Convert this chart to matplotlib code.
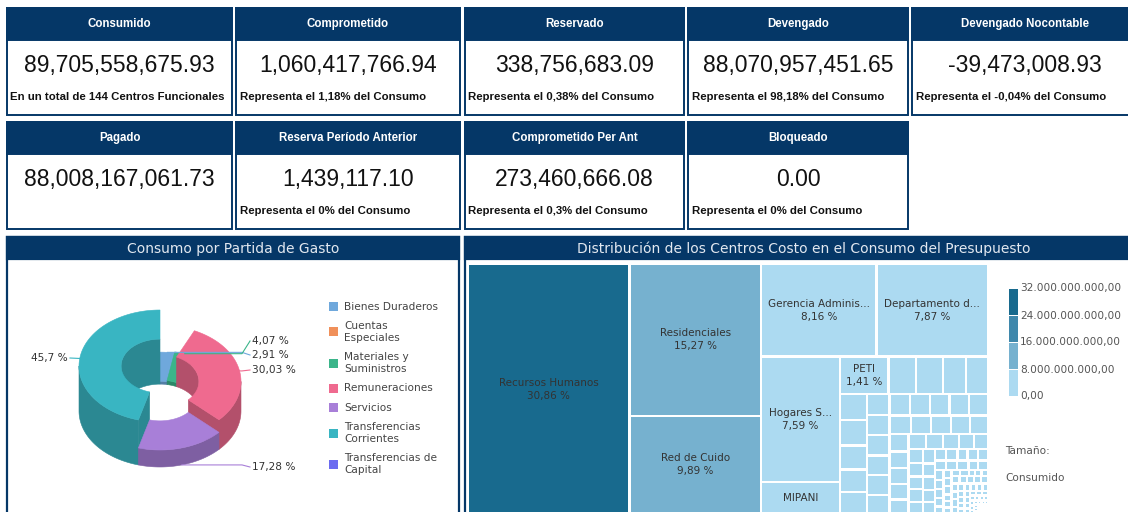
import textwrap
import numpy as np
import matplotlib
matplotlib.use("Agg")
import matplotlib.pyplot as plt
from matplotlib.patches import Rectangle, Polygon
from matplotlib.colors import to_rgb

# ---------------- data ----------------
kpi_titles = ["Consumido", "Comprometido", "Reservado", "Devengado", "Devengado Nocontable",
              "Pagado", "Reserva Período Anterior", "Comprometido Per Ant", "Bloqueado"]
kpi_values = [89705558675.93, 1060417766.94, 338756683.09, 88070957451.65, -39473008.93,
              88008167061.73, 1439117.10, 273460666.08, 0.00]
kpi_notes = ["En un total de 144 Centros Funcionales", "Representa el 1,18% del Consumo",
             "Representa el 0,38% del Consumo", "Representa el 98,18% del Consumo",
             "Representa el -0,04% del Consumo", "", "Representa el 0% del Consumo",
             "Representa el 0,3% del Consumo", "Representa el 0% del Consumo"]

pie_cats = ["Bienes Duraderos", "Cuentas Especiales", "Materiales y Suministros", "Remuneraciones",
            "Servicios", "Transferencias Corrientes", "Transferencias de Capital"]
pie_vals = [2.91, 0.0, 4.07, 30.03, 17.28, 45.70, 0.0]
pie_colors = ['#6fa8dc', '#f0905a', '#3bb58a', '#ef6a8f', '#a87fd8', '#39b5c2', '#6b6bf0']

tm_names = ["Recursos Humanos", "Residenciales", "Red de Cuido", "Gerencia Adminis...",
            "Departamento d...", "Hogares S...", "MIPANI", "PETI"]
tm_pcts = [30.86, 15.27, 9.89, 8.16, 7.87, 7.59, 1.95, 1.41]
# remaining (unnamed) centres, percent of consumo, estimated from tile sizes
tm_small = [0.80, 0.78, 0.66, 0.64,
            0.53, 0.53, 0.50, 0.47, 0.45,
            0.36, 0.35, 0.35, 0.34, 0.34, 0.33,
            0.33, 0.33, 0.32, 0.32, 0.31,
            0.30, 0.29, 0.28, 0.27, 0.26, 0.25, 0.24,
            0.23, 0.22, 0.21, 0.20, 0.19, 0.18, 0.17, 0.16,
            0.15, 0.15, 0.14, 0.14, 0.13, 0.13, 0.12, 0.12, 0.11, 0.11,
            0.10, 0.10, 0.09, 0.09, 0.09, 0.08, 0.08, 0.08, 0.07, 0.07, 0.07, 0.06,
            0.06, 0.06, 0.05, 0.05, 0.05, 0.05, 0.04, 0.04, 0.04, 0.04, 0.04, 0.03, 0.03, 0.03,
            0.045, 0.044, 0.042, 0.041, 0.040, 0.039, 0.038, 0.037, 0.036, 0.035,
            0.034, 0.033, 0.032, 0.031, 0.030, 0.029, 0.028, 0.027, 0.026, 0.025,
            0.024, 0.023, 0.022, 0.021, 0.020, 0.019, 0.018, 0.017, 0.016, 0.015,
            0.014, 0.013, 0.012, 0.011, 0.010, 0.009, 0.009, 0.008, 0.008, 0.007,
            0.007, 0.006, 0.006, 0.005, 0.005, 0.005, 0.004, 0.004, 0.004, 0.003,
            0.003, 0.003, 0.002, 0.002, 0.002, 0.002, 0.001, 0.001, 0.001, 0.001,
            0.001, 0.001, 0.0005, 0.0005, 0.0002]
scale_ticks = [32e9, 24e9, 16e9, 8e9, 0.0]
scale_colors = ['#186a8e', '#3f88ac', '#76b1cf', '#acdaf1']

# ---------------- figure ----------------
NAVY = '#053767'
CARD_FONT = 'Liberation Sans'
fig = plt.figure(figsize=(11.28, 5.12), dpi=100)
ax = fig.add_axes([0, 0, 1, 1])
ax.set_xlim(0, 1128)
ax.set_ylim(512, 0)
ax.axis('off')

# KPI cards
card_x = [7, 236, 465, 688, 912]
card_w = [225, 224, 219, 220, 226]
rows = [(8, 40, 115), (122, 154, 229)]
for i, (t, v, n) in enumerate(zip(kpi_titles, kpi_values, kpi_notes)):
    r, c = divmod(i, 5)
    top, hb, bot = rows[r]
    x0, w = card_x[c], card_w[c]
    ax.add_patch(Rectangle((x0, top), w, bot - top, fc='white', ec=NAVY, lw=1.4))
    ax.add_patch(Rectangle((x0, top), w, hb - top, fc=NAVY, ec=NAVY, lw=1.4))
    ax.text(x0 + w / 2, (top + hb) / 2, t, color='white', fontsize=8.3, fontweight='bold',
            family=CARD_FONT, ha='center', va='center')
    ax.text(x0 + w / 2, top + 57.5, f"{v:,.2f}", fontsize=16.5, family=CARD_FONT,
            ha='center', va='center', color='#111111')
    ax.text(x0 + 3.5, top + 88.5, n, fontsize=8.2, fontweight='bold', family=CARD_FONT,
            ha='left', va='center', color='#111111')

# panels
for px, pw, title, tx in [(7, 452, "Consumo por Partida de Gasto", 233),
                          (465, 700, "Distribución de los Centros Costo en el Consumo del Presupuesto", 804)]:
    ax.add_patch(Rectangle((px, 237), pw, 300, fc='white', ec=NAVY, lw=1.6))
    ax.add_patch(Rectangle((px, 237), pw, 22, fc=NAVY, ec=NAVY, lw=1.6))
    ax.text(tx, 248.5, title, color='#e2e8f0', fontsize=10, ha='center', va='center')

# ---------------- 3D donut ----------------
CX, CB, RX, RY, RIN = 160, 411, 81, 56, 0.48
HS = 45 / 45.7  # px of height per percent


def shade(c, f=0.75):
    return tuple(np.array(to_rgb(c)) * f)


def arc(t1, t2, r, h, n=80):
    th = np.linspace(t1, t2, n)
    return np.column_stack([CX + r * RX * np.sin(th), CB - h - r * RY * np.cos(th)])


total = sum(pie_vals)
ang = np.concatenate([[0], np.cumsum(pie_vals)]) / total * 2 * np.pi
idx = [i for i, v in enumerate(pie_vals) if v > 0]
mids = {i: (ang[i] + ang[i + 1]) / 2 for i in idx}
order = sorted(idx, key=lambda i: -np.cos(mids[i]))
for i in order:
    t1, t2, h, c = ang[i], ang[i + 1], pie_vals[i] * HS, pie_colors[i]
    sc = shade(c)
    kw = dict(fc=sc, ec=sc, lw=0.4)
    for lo, hi in [(0, np.pi / 2), (1.5 * np.pi, 2 * np.pi)]:
        a, b = max(t1, lo), min(t2, hi)
        if b > a:
            ax.add_patch(Polygon(np.vstack([arc(a, b, RIN, h), arc(b, a, RIN, 0)]), **kw))
    for t, vis in [(t1, np.sin(t1) < -1e-6), (t2, np.sin(t2) > 1e-6)]:
        if vis:
            q = np.vstack([arc(t, t, RIN, h, 1), arc(t, t, 1, h, 1), arc(t, t, 1, 0, 1), arc(t, t, RIN, 0, 1)])
            ax.add_patch(Polygon(q, **kw))
    a, b = max(t1, np.pi / 2), min(t2, 1.5 * np.pi)
    if b > a:
        ax.add_patch(Polygon(np.vstack([arc(a, b, 1, h), arc(b, a, 1, 0)]), **kw))
    ax.add_patch(Polygon(np.vstack([arc(t1, t2, 1, h), arc(t2, t1, RIN, h)]), fc=c, ec=c, lw=0.4))

# value labels with leader lines
label_xy = {0: (252, 355), 2: (252, 341), 3: (252, 370), 4: (252, 467), 5: (68, 358)}
for i in idx:
    m = mids[i]
    h = pie_vals[i] * HS
    ax_, ay_ = arc(m, m, 1, 0 if np.cos(m) < -0.5 else h, 1)[0]
    lx, ly = label_xy[i]
    if lx > CX:
        pts = [(ax_, ay_), (242, ay_), (250, ly)]
        ha = 'left'
    else:
        pts = [(ax_, ay_), (lx + 2, ly)]
        ha = 'right'
    ax.plot(*zip(*pts), color=pie_colors[i], lw=0.8)
    ax.text(lx, ly, f"{pie_vals[i]:g}".replace('.', ',') + " %", fontsize=7.6, color='#333333',
            ha=ha, va='center')

# pie legend
y = 306.5
for name, col in zip(pie_cats, pie_colors):
    lines = textwrap.wrap(name, 17)
    ymid = y + 6 * (len(lines) - 1)
    ax.add_patch(Rectangle((329, ymid - 4.5), 9, 9, fc=col, ec='none'))
    for k, ln in enumerate(lines):
        ax.text(344, y + 12 * k, ln, fontsize=7.6, color='#444444', va='center')
    y += 12 * (len(lines) - 1) + 19.3

# ---------------- treemap ----------------
def squarify(vals, x, y, w, h):
    tot = sum(vals)
    areas = [v * w * h / tot for v in vals]
    rects = []

    def worst(row, side):
        s = sum(row)
        return max(max(side * side * r / (s * s), s * s / (side * side * r)) for r in row)

    i = 0
    while i < len(areas):
        side = min(w, h)
        row = [areas[i]]
        i += 1
        while i < len(areas) and worst(row + [areas[i]], side) <= worst(row, side):
            row.append(areas[i])
            i += 1
        s = sum(row)
        if w >= h:
            cw = s / h
            yy = y
            for a in row:
                rects.append((x, yy, cw, a / cw))
                yy += a / cw
            x += cw
            w -= cw
        else:
            rh = s / w
            xx = x
            for a in row:
                rects.append((xx, y, a / rh, rh))
                xx += a / rh
            y += rh
            h -= rh
    return rects


all_pcts = tm_pcts + tm_small
labels = tm_names + [""] * len(tm_small)
consumo = kpi_values[0]
G = 1.2
for (x, y, w, h), p, name in zip(squarify(all_pcts, 468, 264, 520, 250), all_pcts, labels):
    if w - 2 * G <= 0.2 or h - 2 * G <= 0.2:
        continue
    val = p / 100 * consumo
    col = scale_colors[::-1][min(int(val // 8e9), 3)]
    ax.add_patch(Rectangle((x + G, y + G), w - 2 * G, h - 2 * G, fc=col, ec='none'))
    if name and w > 40:
        cx, cy = x + w / 2, y + h / 2
        pct = f"{p:g}".replace('.', ',') + " %"
        if h >= 34:
            ax.text(cx, cy - 6.5, name, fontsize=7.5, color='#333333', ha='center', va='center')
            ax.text(cx, cy + 6.5, pct, fontsize=7.5, color='#333333', ha='center', va='center')
        elif h >= 14:
            ax.text(cx, cy, name, fontsize=7.5, color='#333333', ha='center', va='center')

# colour scale legend
for k, col in enumerate(scale_colors):
    ax.add_patch(Rectangle((1009, 288.5 + k * 27), 9, 26, fc=col, ec='none'))
for k, v in enumerate(scale_ticks):
    s = f"{v:,.2f}".replace(',', '#').replace('.', ',').replace('#', '.')
    ax.text(1020, 288.5 + k * 27, s, fontsize=7.6, color='#555555', va='center')
ax.text(1005, 451, "Tamaño:", fontsize=7.6, color='#555555', va='center')
ax.text(1005, 478, "Consumido", fontsize=7.6, color='#555555', va='center')

fig.savefig("out.png", dpi=100)
